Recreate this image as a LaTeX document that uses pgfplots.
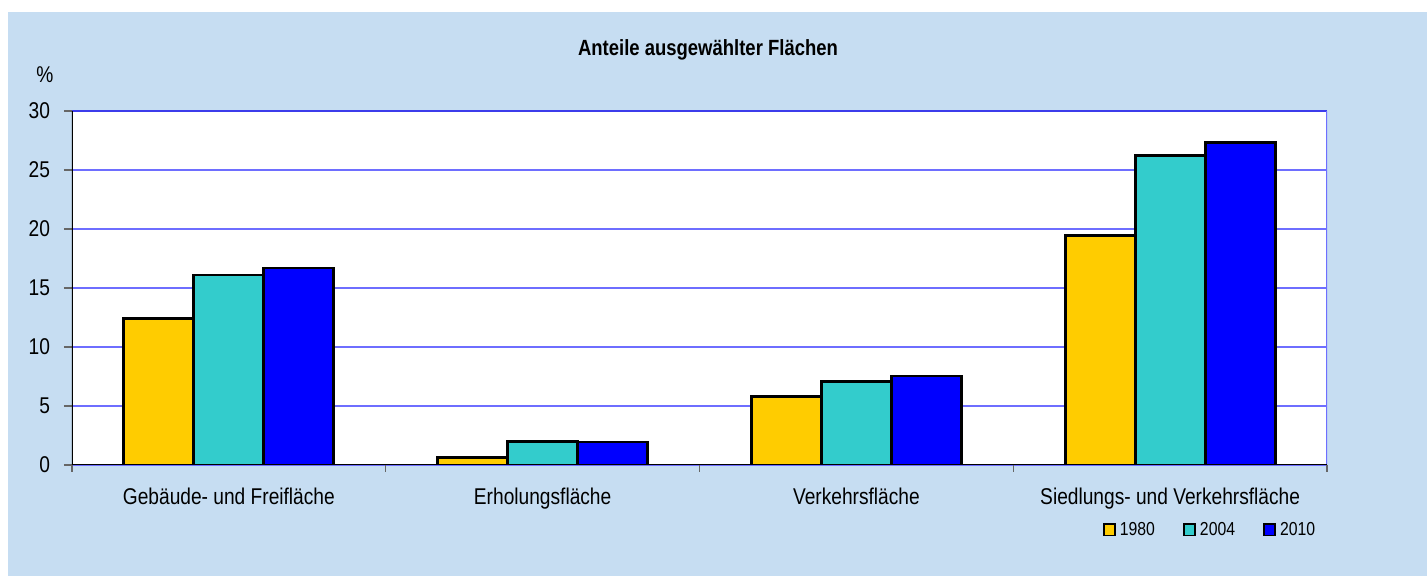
\documentclass[border=0pt]{standalone}
\usepackage{pgfplots}
\pgfplotsset{compat=1.18}
\usepackage{fontspec}
\setmainfont{Liberation Sans}[FakeStretch=0.84]
\definecolor{bgblue}{RGB}{198,221,242}
\definecolor{cyellow}{RGB}{255,204,0}
\definecolor{cteal}{RGB}{51,204,204}
\definecolor{cblue}{RGB}{0,0,255}
\definecolor{gridblue}{RGB}{110,110,255}
\definecolor{topblue}{RGB}{60,60,235}
\begin{document}
\begin{tikzpicture}
\useasboundingbox (0,0) rectangle (713.5pt,288pt);
\fill[white] (0,0) rectangle (713.5pt,288pt);
\fill[bgblue] (4pt,0) rectangle (713.5pt,282pt);
\node[font=\bfseries\fontsize{11}{13}\selectfont] at (354pt,263pt) {Anteile ausgewählter Flächen};
\node[font=\fontsize{11.4}{13}\selectfont] at (22.5pt,250.5pt) {\%};
\begin{axis}[
  at={(36pt,55.5pt)}, anchor=south west,
  scale only axis, width=627.5pt, height=177pt,
  xmin=-0.5, xmax=3.5, ymin=0, ymax=30,
  ytick={0,5,10,15,20,25,30},
  xtick={0,1,2,3},
  xticklabels={Gebäude- und Freifläche, Erholungsfläche, Verkehrsfläche, Siedlungs- und Verkehrsfläche},
  minor xtick={-0.5,0.5,1.5,2.5,3.5},
  tick pos=left,
  major x tick style={draw=none},
  minor x tick style={draw=gray!80!black, line width=0.6pt},
  major y tick style={draw=gray!80!black, line width=0.6pt},
  tick align=outside,
  major tick length=4pt, minor tick length=3.5pt,
  axis background/.style={fill=white},
  axis line style={draw=none},
  ymajorgrids=true,
  grid style={gridblue, line width=0.6pt},
  ticklabel style={font=\fontsize{11.4}{13}\selectfont},
  /pgf/number format/assume math mode=true,
  xticklabel style={yshift=-4pt},
  yticklabel style={xshift=-3.5pt},
  ybar=0pt, bar width=35pt,
  legend columns=3,
  legend style={at={(0.9076,-0.1836)}, anchor=center, draw=none, fill=none,
    font=\fontsize{9.4}{11}\selectfont, inner sep=0pt,
    /tikz/every even column/.append style={column sep=12pt}},
  legend image code/.code={\draw[#1, draw=black, line width=0.9pt] (0pt,-2.8pt) rectangle (5.6pt,2.8pt);},
  legend cell align=left,
]
\addplot[fill=cyellow, draw=black, line width=1.4pt] coordinates {(0,12.4) (1,0.65) (2,5.8) (3,19.45)};
\addplot[fill=cteal, draw=black, line width=1.4pt] coordinates {(0,16.1) (1,2.0) (2,7.05) (3,26.2)};
\addplot[fill=cblue, draw=black, line width=1.4pt] coordinates {(0,16.7) (1,1.95) (2,7.55) (3,27.3)};
\legend{1980,2004,2010}
\draw[topblue, line width=0.7pt] (rel axis cs:0,1) -- (rel axis cs:1,1);
\draw[gridblue, line width=0.6pt] (rel axis cs:1,0) -- (rel axis cs:1,1);
\draw[black, line width=0.6pt] (rel axis cs:0,0) -- (rel axis cs:0,1);
\draw[black, line width=0.6pt] (rel axis cs:0,0) -- (rel axis cs:1,0);
\end{axis}
\end{tikzpicture}
\end{document}
